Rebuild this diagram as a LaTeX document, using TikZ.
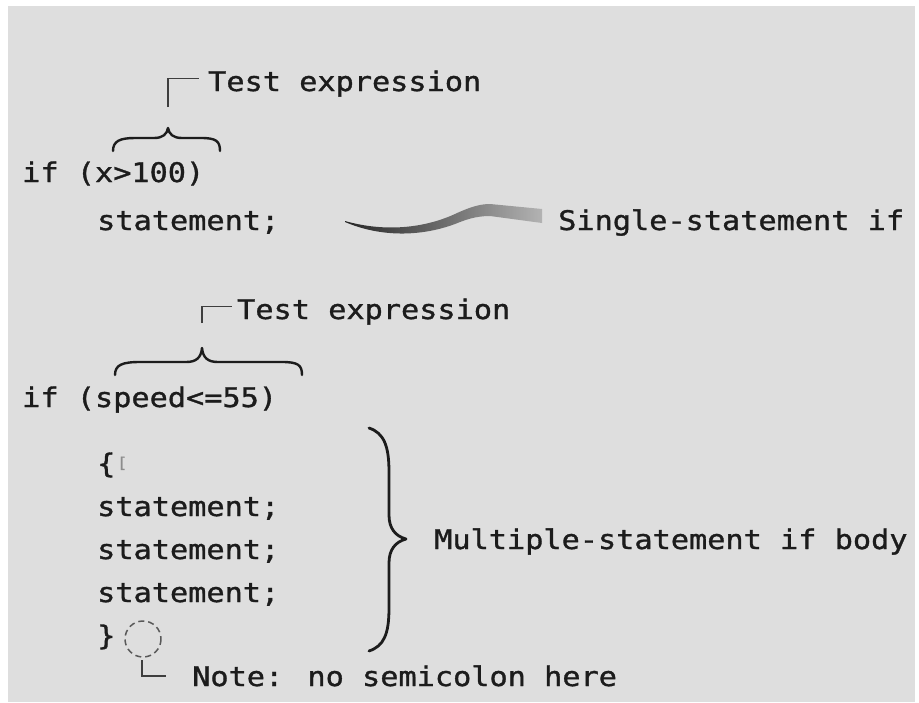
\documentclass[tikz,border=0pt]{standalone}
\usepackage{fontspec}
\newfontfamily\codefont[FakeStretch=1.12,FakeBold=1.2]{DejaVu Sans Mono}
\definecolor{paper}{HTML}{DEDEDE}
\definecolor{ink}{HTML}{1C1C1C}
\tikzset{
  code/.style={anchor=base west,inner sep=0pt,text=ink,font=\codefont\fontsize{27}{32}\selectfont},
  bracket/.style={line width=1.6pt,draw=ink!85},
  curly/.style={line width=2.4pt,draw=ink,line cap=round,line join=round},
}
\begin{document}
\begin{tikzpicture}[x=1pt,y=-1pt]
	\fill[white] (0,0) rectangle (919,702);
	\fill[paper] (8,6) rectangle (915,702);
	\useasboundingbox (0,0) rectangle (919,702);
	% single statement
	\node[code] (test1) at (208,91) {Test expression};
	\node[code] (cond1) at (22,182) {if (x>100)};
	\node[code] (stmt1) at (97,230) {statement;};
	\node[code] (single) at (558,230) {Single-statement if};
	\coordinate (tip1) at (168,128);
	\draw[curly] (113,151) .. controls (113,141) and (120,138) .. (135,138) -- (154,138)
		.. controls (163,138) and (167,134) .. (tip1)
		.. controls (169,134) and (173,138) .. (182,138) -- (201,138)
		.. controls (216,138) and (220,141) .. (220,151);
	\draw[bracket] ([yshift=21pt]tip1) |- ([xshift=-9pt,yshift=5pt]test1.west);
	\shade[left color=black!85,middle color=black!70,right color=black!30]
		(345,221) .. controls (380,231) and (420,230) .. (455,214)
		.. controls (470,207) and (480,204) .. (490,204) -- (542,209) -- (542,223) -- (490,216)
		.. controls (475,216) and (465,220) .. (455,224)
		.. controls (420,237) and (380,237) .. (345,222) -- cycle;
	% block statement
	\node[code] (test2) at (237,319) {Test expression};
	\node[code] (cond2) at (22,407) {if (speed<=55)};
	\node[code] (lbrace) at (97,473) {\{};
	\node[anchor=base west,inner sep=0pt,text=black!45,font=\codefont\fontsize{15}{18}\selectfont] (cursor) at (117,468) {[};
	\node[code] (stmtA) at (97,516) {statement;};
	\node[code] (stmtB) at (97,559) {statement;};
	\node[code] (stmtC) at (97,602) {statement;};
	\node[code] (rbrace) at (97,645) {\}};
	\node[code] (multi) at (434,549) {Multiple-statement if body};
	\node[code] (note) at (192,686) {Note: no semicolon here};
	\coordinate (tip2) at (202,348);
	\draw[curly] (115,375) .. controls (115,365) and (122,362) .. (140,362) -- (186,362)
		.. controls (196,362) and (201,358) .. (tip2)
		.. controls (203,358) and (208,362) .. (218,362) -- (282,362)
		.. controls (298,362) and (302,365) .. (302,375);
	\draw[bracket] ([yshift=25pt]tip2) |- ([xshift=-5pt,yshift=5pt]test2.west);
	\coordinate (tip3) at (406,539);
	\draw[curly,line width=2.8pt] (369,428) .. controls (384,433) and (389,446) .. (389,472) -- (389,515)
		.. controls (389,528) and (395,536) .. (tip3)
		.. controls (395,542) and (389,550) .. (389,563) -- (389,608)
		.. controls (389,634) and (384,646) .. (369,651);
	\draw[dashed,dash pattern=on 6pt off 4pt,line width=1.5pt,draw=black!65] (143,639) circle (18);
	\draw[bracket,line width=1.3pt] (142,660) |- ([xshift=-26pt]note.west);
\end{tikzpicture}
\end{document}
